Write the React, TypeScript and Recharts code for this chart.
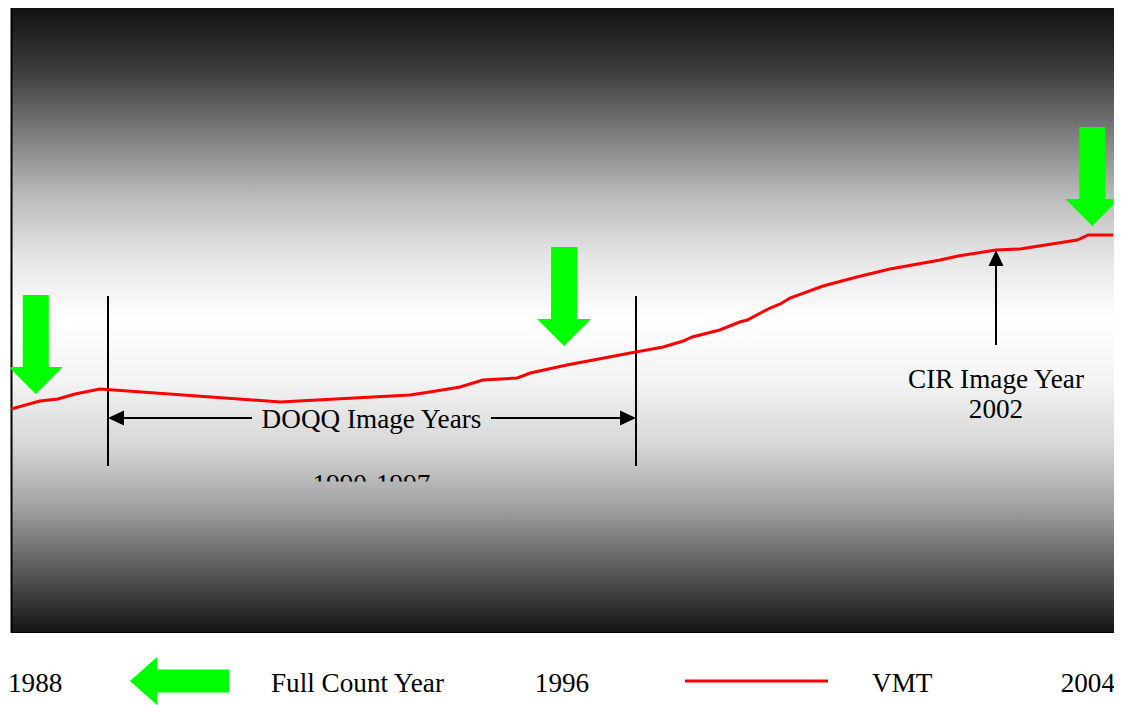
import React from 'react';
import {
  ComposedChart,
  Line,
  Scatter,
  XAxis,
  YAxis,
  ReferenceArea,
  ReferenceLine,
  ReferenceDot,
  Legend,
} from 'recharts';

// ---- Data ----
const vmtYears = [
  1988.0, 1988.42, 1988.68, 1988.93, 1989.29, 1991.91, 1993.79, 1994.08, 1994.52,
  1994.85, 1995.35, 1995.54, 1996.07, 1997.07, 1997.47, 1997.76, 1997.89, 1998.29,
  1998.58, 1998.69, 1999.02, 1999.17, 1999.31, 1999.79, 2000.28, 2000.76, 2001.49,
  2001.75, 2002.3, 2002.65, 2003.48, 2003.64, 2004.0,
];
const vmtValues = [
  35.84, 37.12, 37.44, 38.24, 39.04, 36.96, 38.08, 38.56, 39.36,
  40.48, 40.8, 41.6, 42.88, 44.96, 45.76, 46.72, 47.36, 48.48,
  49.76, 50.08, 52.0, 52.64, 53.6, 55.52, 56.96, 58.24, 59.68,
  60.32, 61.28, 61.44, 62.88, 63.68, 63.68,
];

const fullCountYears = [1988.36, 1996.03, 2003.7];
const fullCountTips = [38.24, 45.92, 65.12];

const tickYears = [1988, 1996, 2004];

const doqqStart = 1989.408;
const doqqEnd = 1997.074;
const doqqGapLeft = 1991.499;
const doqqGapRight = 1994.969;
const doqqLineTop = 53.92;
const doqqLineBottom = 26.72;
const doqqArrowLevel = 34.4;
const doqqLabelYear = 1993.234;
const doqqLabelLevel = 32.8;
const doqqRangeLevel = 22.4;
const doqqLabel = 'DOQQ Image Years';
const doqqRange = '1990-1997';

const cirYear = 2002.301;
const cirArrowBottom = 46.08;
const cirArrowTip = 61.28;
const cirLabelLevel1 = 39.2;
const cirLabelLevel2 = 34.4;
const cirLabel1 = 'CIR Image Year';
const cirLabel2 = '2002';

const legendFullCount = 'Full Count Year';
const legendVmt = 'VMT';

const vmtData = vmtYears.map((year, i) => ({ year, vmt: vmtValues[i] }));
const fullCountData = fullCountYears.map((year, i) => ({ year, tip: fullCountTips[i] }));

const FONT = "'Liberation Serif', 'Times New Roman', serif";
const FS = 27.2;
const GREEN = '#00ff00';
const RED = '#ff0000';

// ---- Shapes ----
const Background = (props: any) => {
  const { x, y, width, height } = props;
  return (
    <g>
      <defs>
        <linearGradient id="bgGrad" x1="0" y1="0" x2="0" y2="1">
          <stop offset="0" stopColor="#111111" />
          <stop offset="0.1" stopColor="#3c3c3c" />
          <stop offset="0.2" stopColor="#7c7c7c" />
          <stop offset="0.3" stopColor="#bababa" />
          <stop offset="0.4" stopColor="#e6e6e6" />
          <stop offset="0.5" stopColor="#ffffff" />
          <stop offset="0.6" stopColor="#f3f3f3" />
          <stop offset="0.7" stopColor="#d6d6d6" />
          <stop offset="0.8" stopColor="#a0a0a0" />
          <stop offset="0.9" stopColor="#5a5a5a" />
          <stop offset="1" stopColor="#131313" />
        </linearGradient>
      </defs>
      <rect x={x} y={y} width={width + 3} height={height} fill="url(#bgGrad)" />
      <line x1={x} y1={y - 0.5} x2={x + width + 3} y2={y - 0.5} stroke="#c4c4c4" strokeWidth={1} />
      <line x1={x + 0.5} y1={y} x2={x + 0.5} y2={y + height} stroke="#000" strokeWidth={2} />
      <line x1={x + width + 3} y1={y} x2={x + width + 3} y2={y + height} stroke="#000" strokeWidth={2} />
      <line x1={x} y1={y + height - 0.5} x2={x + width + 3} y2={y + height - 0.5} stroke="#000" strokeWidth={1} />
    </g>
  );
};

const DownArrow = (props: any) => {
  const { cx, cy } = props;
  const sw = 13;
  const hw = 27;
  const hh = 27;
  const sl = 72;
  const pts = [
    [cx - sw, cy - hh - sl],
    [cx + sw, cy - hh - sl],
    [cx + sw, cy - hh],
    [cx + hw, cy - hh],
    [cx, cy],
    [cx - hw, cy - hh],
    [cx - sw, cy - hh],
  ]
    .map((p) => p.join(','))
    .join(' ');
  return <polygon points={pts} fill={GREEN} />;
};

const PlainLine = (props: any) => (
  <line x1={props.x1} y1={props.y1} x2={props.x2} y2={props.y2} stroke="#000" strokeWidth={2} />
);

const arrowHeadAt = (tx: number, ty: number, fx: number, fy: number) => {
  const dx = tx - fx;
  const dy = ty - fy;
  const len = Math.sqrt(dx * dx + dy * dy) || 1;
  const ux = dx / len;
  const uy = dy / len;
  const L = 16;
  const W = 7.5;
  const bx = tx - ux * L;
  const by = ty - uy * L;
  return `${tx},${ty} ${bx - uy * W},${by + ux * W} ${bx + uy * W},${by - ux * W}`;
};

const ArrowAtStart = (props: any) => {
  const { x1, y1, x2, y2 } = props;
  return (
    <g>
      <line x1={x1 + 10} y1={y1} x2={x2} y2={y2} stroke="#000" strokeWidth={2} />
      <polygon points={arrowHeadAt(x1, y1, x2, y2)} fill="#000" />
    </g>
  );
};

const ArrowAtEnd = (props: any) => {
  const { x1, y1, x2, y2 } = props;
  return (
    <g>
      <line x1={x1} y1={y1} x2={x2 - 10} y2={y2} stroke="#000" strokeWidth={2} />
      <polygon points={arrowHeadAt(x2, y2, x1, y1)} fill="#000" />
    </g>
  );
};

const ArrowUp = (props: any) => {
  const { x1, y1, x2, y2 } = props;
  const top = Math.min(y1, y2);
  const bottom = Math.max(y1, y2);
  return (
    <g>
      <line x1={x1} y1={bottom} x2={x2} y2={top + 10} stroke="#000" strokeWidth={2} />
      <polygon points={arrowHeadAt(x1, top, x1, bottom)} fill="#000" />
    </g>
  );
};

const textShape = (label: string) => (props: any) => (
  <text
    x={props.cx}
    y={props.cy}
    textAnchor="middle"
    fontFamily={FONT}
    fontSize={FS}
    fill="#000"
  >
    {label}
  </text>
);

const ClippedText = (props: any) => {
  const { cx, cy } = props;
  return (
    <g>
      <defs>
        <clipPath id="doqqRangeClip">
          <rect x={cx - 120} y={cy - 40} width={240} height={28.5} />
        </clipPath>
      </defs>
      <text
        x={cx}
        y={cy}
        textAnchor="middle"
        fontFamily={FONT}
        fontSize={FS}
        fill="#000"
        clipPath="url(#doqqRangeClip)"
      >
        {doqqRange}
      </text>
    </g>
  );
};

const YearTick = (props: any) => {
  const { x, y, payload } = props;
  const v = payload.value;
  let anchor: 'start' | 'middle' | 'end' = 'middle';
  let tx = x;
  if (v === tickYears[0]) {
    anchor = 'start';
    tx = x - 3;
  } else if (v === tickYears[tickYears.length - 1]) {
    anchor = 'end';
    tx = x + 2;
  }
  return (
    <text x={tx} y={y + 59} textAnchor={anchor} fontFamily={FONT} fontSize={FS} fill="#000">
      {v}
    </text>
  );
};

const LegendContent = () => {
  const ay = 24;
  const tipX = 122;
  const backX = 149;
  const endX = 221;
  const arrowPts = [
    [tipX, ay],
    [backX, ay - 24],
    [backX, ay - 11.5],
    [endX, ay - 11.5],
    [endX, ay + 11.5],
    [backX, ay + 11.5],
    [backX, ay + 24],
  ]
    .map((p) => p.join(','))
    .join(' ');
  return (
    <svg width={1114} height={48} style={{ display: 'block', overflow: 'visible' }}>
      <polygon points={arrowPts} fill={GREEN} />
      <text x={263} y={35} fontFamily={FONT} fontSize={FS} fill="#000">
        {legendFullCount}
      </text>
      <line x1={677} y1={ay} x2={820} y2={ay} stroke={RED} strokeWidth={3} />
      <text x={864} y={35} fontFamily={FONT} fontSize={FS} fill="#000">
        {legendVmt}
      </text>
    </svg>
  );
};

export default function App() {
  return (
    <div style={{ width: 1114, height: 697 }}>
      <ComposedChart
        width={1114}
        height={697}
        margin={{ top: 0, right: 9, bottom: 0, left: 3 }}
      >
        <XAxis
          dataKey="year"
          type="number"
          domain={[1988, 2004]}
          ticks={tickYears}
          interval={0}
          axisLine={false}
          tickLine={false}
          tickSize={0}
          tickMargin={0}
          height={24}
          tick={<YearTick />}
          allowDataOverflow
        />
        <YAxis type="number" domain={[0, 100]} hide allowDataOverflow />
        <ReferenceArea
          x1={1988}
          x2={2004}
          y1={0}
          y2={100}
          shape={<Background />}
          ifOverflow="visible"
        />
        <ReferenceLine
          segment={[{ x: doqqStart, y: doqqLineTop }, { x: doqqStart, y: doqqLineBottom }]}
          shape={<PlainLine />}
          ifOverflow="visible"
        />
        <ReferenceLine
          segment={[{ x: doqqEnd, y: doqqLineTop }, { x: doqqEnd, y: doqqLineBottom }]}
          shape={<PlainLine />}
          ifOverflow="visible"
        />
        <ReferenceLine
          segment={[{ x: doqqStart, y: doqqArrowLevel }, { x: doqqGapLeft, y: doqqArrowLevel }]}
          shape={<ArrowAtStart />}
          ifOverflow="visible"
        />
        <ReferenceLine
          segment={[{ x: doqqGapRight, y: doqqArrowLevel }, { x: doqqEnd, y: doqqArrowLevel }]}
          shape={<ArrowAtEnd />}
          ifOverflow="visible"
        />
        <ReferenceLine
          segment={[{ x: cirYear, y: cirArrowBottom }, { x: cirYear, y: cirArrowTip }]}
          shape={<ArrowUp />}
          ifOverflow="visible"
        />
        <ReferenceDot x={doqqLabelYear} y={doqqLabelLevel} r={1} shape={textShape(doqqLabel)} ifOverflow="visible" />
        <ReferenceDot x={doqqLabelYear} y={doqqRangeLevel} r={1} shape={<ClippedText />} ifOverflow="visible" />
        <ReferenceDot x={cirYear} y={cirLabelLevel1} r={1} shape={textShape(cirLabel1)} ifOverflow="visible" />
        <ReferenceDot x={cirYear} y={cirLabelLevel2} r={1} shape={textShape(cirLabel2)} ifOverflow="visible" />
        <Line
          data={vmtData}
          dataKey="vmt"
          type="linear"
          stroke={RED}
          strokeWidth={3}
          dot={false}
          activeDot={false}
          isAnimationActive={false}
        />
        <Scatter
          data={fullCountData}
          dataKey="tip"
          shape={<DownArrow />}
          isAnimationActive={false}
        />
        <Legend
          verticalAlign="bottom"
          content={<LegendContent />}
          wrapperStyle={{ left: 0, bottom: 0, width: 1114, height: 48 }}
        />
      </ComposedChart>
    </div>
  );
}
